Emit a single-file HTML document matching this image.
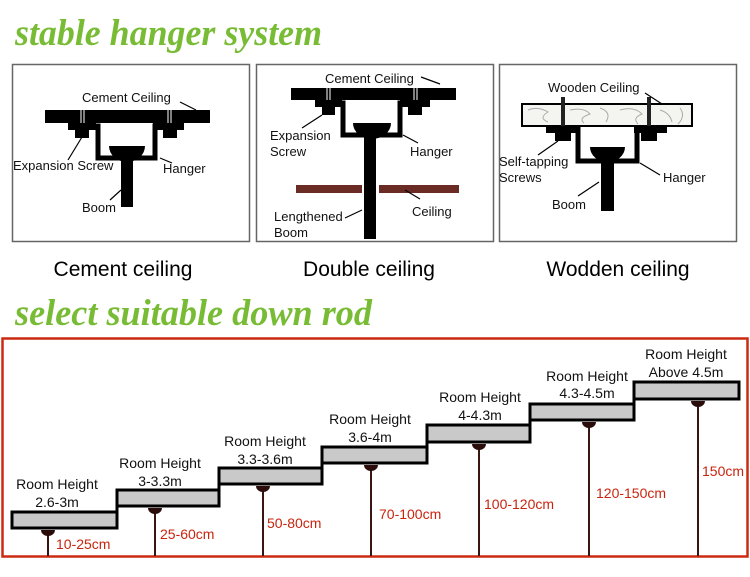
<!DOCTYPE html>
<html><head><meta charset="utf-8"><style>
html,body{margin:0;padding:0;background:#fff;}
svg{display:block;}
.t{font-family:"Liberation Sans",sans-serif;font-size:13px;fill:#111;}
.cap{font-family:"Liberation Sans",sans-serif;font-size:21px;fill:#000;}
.g{font-family:"Liberation Serif",serif;font-weight:bold;font-style:italic;font-size:37px;fill:#78bc35;}
.rh{font-family:"Liberation Sans",sans-serif;font-size:14px;fill:#111;text-anchor:middle;}
.cm{font-family:"Liberation Sans",sans-serif;font-size:14px;fill:#c8250f;}
</style></head><body>
<svg width="750" height="577" viewBox="0 0 750 577" xmlns="http://www.w3.org/2000/svg">
<text x="15" y="45" class="g" textLength="307" lengthAdjust="spacingAndGlyphs">stable hanger system</text>
<text x="15" y="325" class="g" textLength="357" lengthAdjust="spacingAndGlyphs">select suitable down rod</text>

<rect x="12.5" y="64.5" width="237" height="177" fill="#fff" stroke="#666" stroke-width="1.5"/>
<rect x="256.5" y="64.5" width="237" height="177" fill="#fff" stroke="#666" stroke-width="1.5"/>
<rect x="499.5" y="64.5" width="237" height="177" fill="#fff" stroke="#666" stroke-width="1.5"/>

<!-- Box1 -->
<rect x="45" y="110" width="165" height="13" fill="#000"/>
<line x1="81" y1="110" x2="81" y2="131" stroke="#fff" stroke-width="1"/><line x1="84" y1="110" x2="84" y2="131" stroke="#fff" stroke-width="1"/>
<line x1="168" y1="110" x2="168" y2="131" stroke="#fff" stroke-width="1"/><line x1="171" y1="110" x2="171" y2="131" stroke="#fff" stroke-width="1"/>
<rect x="68" y="123" width="28" height="7" fill="#000"/><rect x="75" y="130" width="14" height="8" fill="#000"/>
<rect x="153" y="123" width="31" height="7" fill="#000"/><rect x="163" y="130" width="14" height="8" fill="#000"/>
<polyline points="94,126 98,126 98,158 155,158 155,126 160,126" fill="none" stroke="#000" stroke-width="5"/>
<path d="M109,146 L145,146 A18,16 0 0 1 109,146 Z" fill="#000"/>
<rect x="121" y="158" width="12" height="49" fill="#000"/>
<text x="82" y="102" class="t">Cement Ceiling</text>
<line x1="180" y1="102" x2="196" y2="110" stroke="#000" stroke-width="1.2"/>
<text x="13" y="170" class="t">Expansion Screw</text>
<line x1="68" y1="160" x2="82" y2="137" stroke="#000" stroke-width="1.2"/>
<text x="163" y="173" class="t">Hanger</text>
<line x1="160" y1="158" x2="172" y2="163" stroke="#000" stroke-width="1.2"/>
<text x="82" y="212" class="t">Boom</text>
<line x1="110" y1="200" x2="121" y2="190" stroke="#000" stroke-width="1.2"/>

<!-- Box2 -->
<rect x="291" y="88" width="165" height="12" fill="#000"/>
<line x1="327" y1="88" x2="327" y2="107" stroke="#fff" stroke-width="1"/><line x1="330" y1="88" x2="330" y2="107" stroke="#fff" stroke-width="1"/>
<line x1="414" y1="88" x2="414" y2="107" stroke="#fff" stroke-width="1"/><line x1="417" y1="88" x2="417" y2="107" stroke="#fff" stroke-width="1"/>
<rect x="315" y="100" width="27" height="7" fill="#000"/><rect x="322" y="107" width="13" height="8" fill="#000"/>
<rect x="400" y="100" width="30" height="7" fill="#000"/><rect x="408" y="107" width="14" height="8" fill="#000"/>
<polyline points="340,103 343,103 343,135 400,135 400,103 404,103" fill="none" stroke="#000" stroke-width="5"/>
<path d="M353,123 L391,123 A19,16 0 0 1 353,123 Z" fill="#000"/>
<rect x="364" y="135" width="12" height="104" fill="#000"/>
<rect x="296" y="185" width="66" height="8" fill="#6a2b24"/>
<rect x="379" y="185" width="80" height="8" fill="#6a2b24"/>
<text x="325" y="83" class="t">Cement Ceiling</text>
<line x1="421" y1="77" x2="440" y2="84" stroke="#000" stroke-width="1.2"/>
<text x="270" y="140" class="t">Expansion</text>
<text x="270" y="156" class="t">Screw</text>
<line x1="302" y1="128" x2="322" y2="115" stroke="#000" stroke-width="1.2"/>
<text x="410" y="156" class="t">Hanger</text>
<line x1="403" y1="135" x2="418" y2="143" stroke="#000" stroke-width="1.2"/>
<text x="274" y="221" class="t">Lengthened</text>
<text x="274" y="237" class="t">Boom</text>
<line x1="345" y1="218" x2="362" y2="210" stroke="#000" stroke-width="1.2"/>
<text x="412" y="216" class="t">Ceiling</text>
<line x1="405" y1="190" x2="420" y2="199" stroke="#000" stroke-width="1.2"/>

<!-- Box3 -->
<rect x="522" y="104" width="170" height="22" fill="#f4f4f0" stroke="#000" stroke-width="2"/>
<path d="M528,110 q10,-4 20,2 q-10,6 0,10 M570,110 q14,-3 20,4 q-12,4 -6,9 M600,108 q12,4 6,14 M620,110 q14,-4 22,4 q-10,4 -4,10 M660,110 q10,3 12,12 M680,108 q6,8 -2,16" fill="none" stroke="#aaa" stroke-width="1"/>
<rect x="561" y="97" width="4" height="44" fill="#222"/>
<rect x="647" y="97" width="4" height="44" fill="#222"/>
<rect x="546" y="126" width="33" height="7" fill="#000"/><rect x="555" y="133" width="16" height="8" fill="#000"/>
<rect x="634" y="126" width="33" height="7" fill="#000"/><rect x="641" y="133" width="16" height="8" fill="#000"/>
<polyline points="576,129 578,129 578,161 637,161 637,129 640,129" fill="none" stroke="#000" stroke-width="5"/>
<path d="M590,147 L625,147 A17.5,15 0 0 1 590,147 Z" fill="#000"/>
<rect x="601" y="160" width="13" height="51" fill="#000"/>
<text x="548" y="92" class="t">Wooden Ceiling</text>
<line x1="645" y1="93" x2="662" y2="104" stroke="#000" stroke-width="1.2"/>
<text x="499" y="166" class="t">Self-tapping</text>
<text x="499" y="182" class="t">Screws</text>
<line x1="538" y1="155" x2="558" y2="141" stroke="#000" stroke-width="1.2"/>
<text x="663" y="182" class="t">Hanger</text>
<line x1="640" y1="163" x2="660" y2="175" stroke="#000" stroke-width="1.2"/>
<text x="552" y="209" class="t">Boom</text>
<line x1="578" y1="196" x2="599" y2="182" stroke="#000" stroke-width="1.2"/>

<text x="123" y="276" class="cap" text-anchor="middle">Cement ceiling</text>
<text x="369" y="276" class="cap" text-anchor="middle">Double ceiling</text>
<text x="618" y="276" class="cap" text-anchor="middle">Wodden ceiling</text>

<rect x="2.5" y="338.5" width="745" height="218" fill="#fff" stroke="#cc2a10" stroke-width="2.5"/>
<polygon points="12,512 117,512 117,490 219,490 219,468 322,468 322,447 427,447 427,425 530,425 530,404 634,404 634,382 739,382 739,399 634,399 634,420 530,420 530,442 427,442 427,463 322,463 322,484 219,484 219,506 117,506 117,528 12,528" fill="#c9c9c9" stroke="#000" stroke-width="3" stroke-linejoin="miter"/>
<g stroke="#3a1410" stroke-width="2">
<line x1="48" y1="530" x2="48" y2="556"/><line x1="155" y1="508" x2="155" y2="556"/><line x1="263" y1="486" x2="263" y2="556"/><line x1="371" y1="465" x2="371" y2="556"/><line x1="479" y1="444" x2="479" y2="556"/><line x1="589" y1="422" x2="589" y2="556"/><line x1="698" y1="401" x2="698" y2="556"/>
</g>
<g fill="#2a0d0a">
<path d="M41,530 h14 a7,6 0 0 1 -14,0z"/><path d="M148,508 h14 a7,6 0 0 1 -14,0z"/><path d="M256,486 h14 a7,6 0 0 1 -14,0z"/><path d="M364,465 h14 a7,6 0 0 1 -14,0z"/><path d="M472,444 h14 a7,6 0 0 1 -14,0z"/><path d="M582,422 h14 a7,6 0 0 1 -14,0z"/><path d="M691,401 h14 a7,6 0 0 1 -14,0z"/>
</g>
<text x="57" y="489" class="rh">Room Height</text><text x="57" y="507" class="rh">2.6-3m</text>
<text x="160" y="468" class="rh">Room Height</text><text x="160" y="486" class="rh">3-3.3m</text>
<text x="265" y="446" class="rh">Room Height</text><text x="265" y="464" class="rh">3.3-3.6m</text>
<text x="370" y="424" class="rh">Room Height</text><text x="370" y="442" class="rh">3.6-4m</text>
<text x="480" y="402" class="rh">Room Height</text><text x="480" y="420" class="rh">4-4.3m</text>
<text x="587" y="381" class="rh">Room Height</text><text x="587" y="398" class="rh">4.3-4.5m</text>
<text x="686" y="359" class="rh">Room Height</text><text x="686" y="377" class="rh">Above 4.5m</text>
<text x="56" y="549" class="cm">10-25cm</text>
<text x="160" y="539" class="cm">25-60cm</text>
<text x="267" y="528" class="cm">50-80cm</text>
<text x="379" y="519" class="cm">70-100cm</text>
<text x="484" y="509" class="cm">100-120cm</text>
<text x="596" y="498" class="cm">120-150cm</text>
<text x="702" y="476" class="cm">150cm</text>
</svg>
</body></html>
